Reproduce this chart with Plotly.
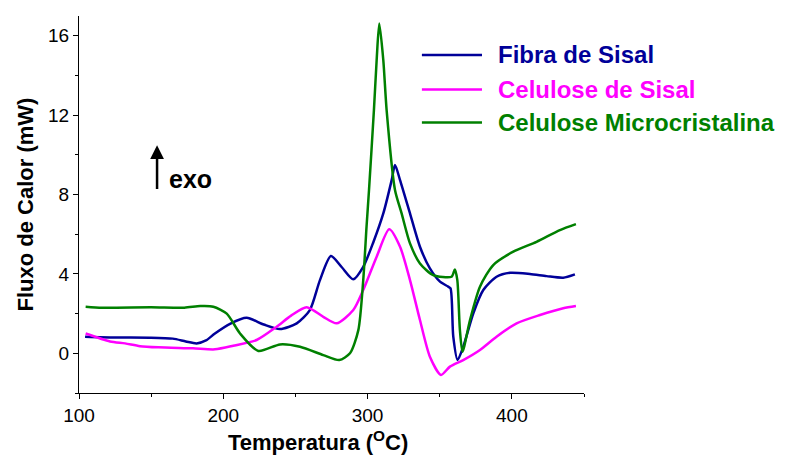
import plotly.graph_objects as go

# DSC curves: heat flow (mW) versus temperature (°C)
fibra_t = [104.2, 125, 149, 165, 174, 181.5, 188, 194.2, 205, 216.2, 228, 239.3, 250.9, 260,
           267, 274.6, 282, 290.1, 297, 304, 310.9, 316.7, 319, 322.5, 329.4, 336.3,
           343.2, 350.2, 355.9, 357.5, 359.4, 362.4, 366.3, 373.3, 380.2, 389.4, 398.7,
           412.5, 424.1, 435.6, 443.7]
fibra_y = [0.84, 0.8, 0.79, 0.74, 0.6, 0.5, 0.65, 1.0, 1.5, 1.79, 1.45, 1.22, 1.51, 2.18,
           3.69, 4.9, 4.35, 3.73, 4.36, 5.6, 7.05, 8.73, 9.49, 8.73, 7.05, 5.37,
           4.28, 3.61, 3.36, 3.27, 0.84, -0.34, 0.33, 2.02, 3.19, 3.86, 4.06,
           4.0, 3.89, 3.81, 3.98]

cel_sisal_t = [104.6, 121.5, 131.9, 142.3, 155, 179, 194.2, 206.9, 223.1, 237, 247, 257.8,
               269.3, 278.6, 290.1, 297, 306.3, 315, 322.5, 329.4, 336.3, 343.2, 350.9,
               357.1, 366.3, 377.9, 389.4, 403.3, 419.5, 435.6, 444.4]
cel_sisal_y = [1.0, 0.6, 0.5, 0.36, 0.3, 0.25, 0.2, 0.38, 0.67, 1.34, 1.9, 2.32,
               1.84, 1.51, 2.18, 3.19, 4.87, 6.25, 5.37, 3.69, 1.68, -0.17, -1.09,
               -0.67, -0.34, 0.17, 0.84, 1.51, 1.93, 2.27, 2.38]

micro_t = [104.6, 116, 150, 173, 184, 193.1, 202.4, 211.6, 224.3, 239.3, 253.2, 269.3,
           280.4, 287.8, 293.6, 297, 299.3, 301, 304.4, 306.3, 308.1, 310.9, 313.2,
           319, 323.6, 329.4, 336.3, 345.5, 358.2, 360.5, 362.2, 364, 365.8, 371,
           377.9, 387.1, 401, 417.1, 433.3, 444.4]
micro_y = [2.35, 2.3, 2.32, 2.3, 2.38, 2.35, 2.0, 1.0, 0.12, 0.45, 0.33, -0.09,
           -0.34, 0.0, 1.17, 3.69, 6.4, 8.23, 12.26, 14.78, 16.62, 14.78, 12.26,
           8.23, 7.05, 5.54, 4.53, 3.94, 3.86, 4.23, 3.69, 1.17, 0.08, 1.68,
           3.36, 4.45, 5.12, 5.62, 6.21, 6.51]

series = [
    ("Fibra de Sisal", fibra_t, fibra_y, "#000099"),
    ("Celulose de Sisal", cel_sisal_t, cel_sisal_y, "#FF00FF"),
    ("Celulose Microcristalina", micro_t, micro_y, "#008000"),
]

FONT = "Liberation Sans, Arial, sans-serif"

fig = go.Figure()
for name, t, y, color in series:
    fig.add_trace(go.Scatter(
        x=t, y=y, mode="lines", name=name, showlegend=False,
        line=dict(color=color, width=2.5, shape="spline", smoothing=0.7),
    ))

# hand-built legend: line sample + coloured bold label
leg_rows = [0.8966, 0.805, 0.7175]
for (name, _, _, color), yp in zip(series, leg_rows):
    fig.add_shape(type="line", xref="paper", yref="paper",
                  x0=0.679, x1=0.798, y0=yp, y1=yp,
                  line=dict(color=color, width=2.5))
    fig.add_annotation(xref="paper", yref="paper", x=0.826, y=yp,
                       text=f"<b>{name}</b>", showarrow=False,
                       xanchor="left", yanchor="middle",
                       font=dict(family=FONT, size=24, color=color))

# exothermic direction marker
fig.add_annotation(x=154.1, y=10.49, ax=154.1, ay=8.2, xref="x", yref="y",
                   axref="x", ayref="y", text="", showarrow=True,
                   arrowhead=2, arrowsize=1.1, arrowwidth=2.5, arrowcolor="black")
fig.add_annotation(x=161.3, y=8.8, xref="x", yref="y", text="<b>exo</b>",
                   showarrow=False, xanchor="left", yanchor="middle",
                   font=dict(family=FONT, size=25, color="black"))

# x-axis title
fig.add_annotation(xref="paper", yref="paper", x=0.473, y=-0.126,
                   text="<b>Temperatura (<sup>O</sup>C)</b>", showarrow=False,
                   xanchor="center", yanchor="middle",
                   font=dict(family=FONT, size=22, color="black"))

axis_common = dict(
    showline=True, linecolor="black", linewidth=1, mirror=False,
    showgrid=False, zeroline=False, ticks="outside", ticklen=5,
    tickwidth=1, tickcolor="black",
    tickfont=dict(family=FONT, size=19, color="black"),
)

fig.update_xaxes(
    range=[100, 450], tickvals=[100, 200, 300, 400],
    minor=dict(tickvals=[150, 250, 350, 450], ticks="outside", ticklen=3,
               tickcolor="black", tickwidth=1),
    **axis_common,
)
fig.update_yaxes(
    range=[-2, 17], tickvals=[0, 4, 8, 12, 16],
    minor=dict(tickvals=[-2, 2, 6, 10, 14], ticks="outside", ticklen=3,
               tickcolor="black", tickwidth=1),
    title=dict(text="<b>Fluxo de Calor (mW)</b>", standoff=8,
               font=dict(family=FONT, size=22, color="black")),
    **axis_common,
)

fig.update_layout(
    width=797, height=455,
    margin=dict(l=79, r=213, t=16, b=62),
    paper_bgcolor="white", plot_bgcolor="white",
)

fig.write_html("out.html")
